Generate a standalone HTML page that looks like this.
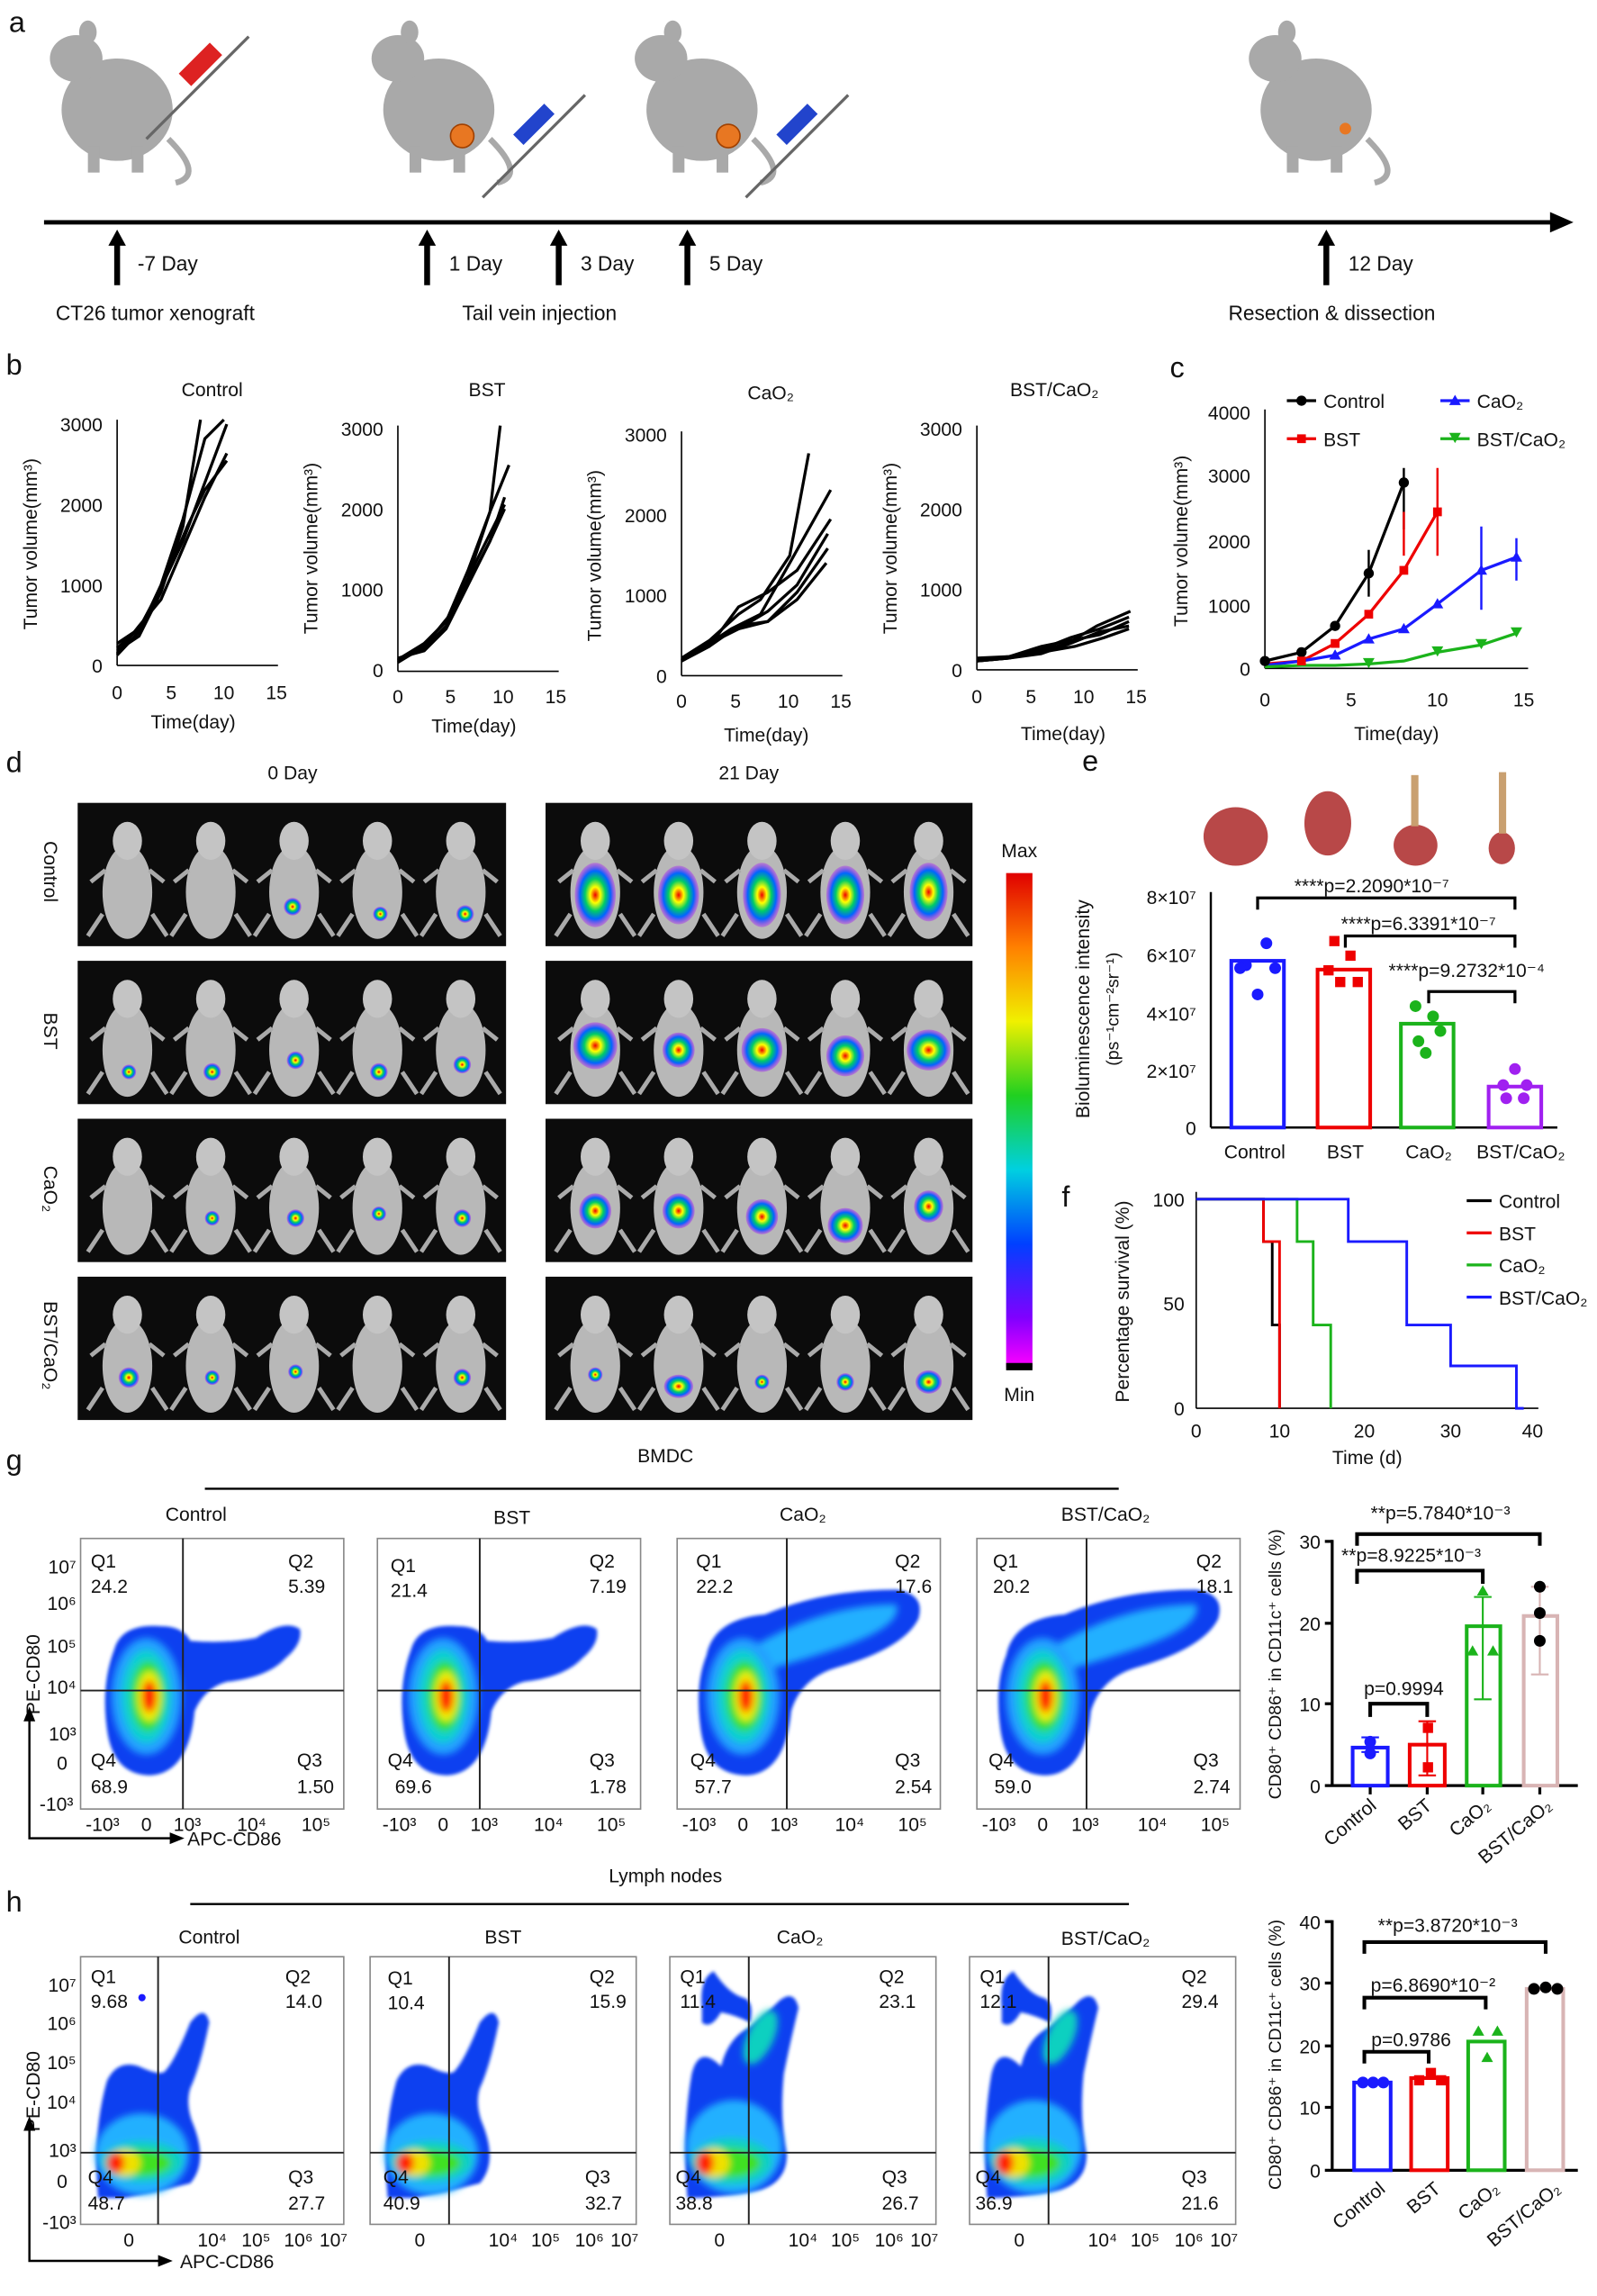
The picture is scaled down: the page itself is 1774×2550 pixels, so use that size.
<!DOCTYPE html>
<html><head><meta charset="utf-8"><style>
html,body{margin:0;padding:0;background:#fff}
svg{display:block}
text{font-family:"Liberation Sans",Arial,sans-serif;fill:#111}
</style></head><body>
<svg width="1774" height="2550" viewBox="0 0 1092 1570" xmlns="http://www.w3.org/2000/svg">
<defs>
<filter id="bl" x="-20%" y="-20%" width="140%" height="140%"><feGaussianBlur stdDeviation="2.5"/></filter>
<filter id="bl2" x="-20%" y="-20%" width="140%" height="140%"><feGaussianBlur stdDeviation="1.2"/></filter>
<radialGradient id="spot" cx="0.5" cy="0.5" r="0.5">
<stop offset="0" stop-color="#e00"/><stop offset="0.25" stop-color="#ff0"/><stop offset="0.5" stop-color="#0c6"/><stop offset="0.75" stop-color="#06f"/><stop offset="1" stop-color="#a0f" stop-opacity="0.3"/></radialGradient>
<linearGradient id="cbar" x1="0" y1="0" x2="0" y2="1">
<stop offset="0" stop-color="#e00000"/><stop offset="0.15" stop-color="#ff8000"/><stop offset="0.3" stop-color="#f0f000"/><stop offset="0.45" stop-color="#20d020"/><stop offset="0.6" stop-color="#00d0e0"/><stop offset="0.75" stop-color="#0040ff"/><stop offset="0.9" stop-color="#8000ff"/><stop offset="1" stop-color="#ff00ff"/></linearGradient>
<g id="mouse"><ellipse cx="50" cy="65" rx="38" ry="35" fill="#a9a9a9"/><ellipse cx="22" cy="30" rx="18" ry="16" fill="#a9a9a9"/><ellipse cx="30" cy="12" rx="6" ry="8" fill="#a9a9a9"/><path d="M85,85 Q110,110 90,115" stroke="#a9a9a9" stroke-width="4" fill="none"/><rect x="30" y="90" width="8" height="18" fill="#a9a9a9"/><rect x="60" y="90" width="8" height="18" fill="#a9a9a9"/></g>
<g id="wm"><ellipse cx="29" cy="55" rx="17" ry="32" fill="#b8b8b8"/><ellipse cx="29" cy="20" rx="10" ry="13" fill="#c4c4c4"/><path d="M12,70 L2,85 M46,70 L56,85 M14,40 L4,48 M44,40 L54,48" stroke="#aaa" stroke-width="3"/></g>
<!-- g flow blob, box-relative 180x185 -->
<g id="gblob">
<path filter="url(#bl2)" fill="#1040f0" d="M23,76 Q28,58 55,60 Q70,60 75,70 Q100,72 120,68 Q140,55 150,62 Q152,72 140,82 Q128,95 100,98 Q85,102 78,118 Q74,160 48,162 Q22,162 18,130 Q14,100 23,76Z"/>
<g filter="url(#bl)">
<ellipse cx="45" cy="108" rx="24" ry="40" fill="#20a0ff"/>
<ellipse cx="45" cy="108" rx="17" ry="32" fill="#10d0d0"/>
<ellipse cx="46" cy="108" rx="12" ry="24" fill="#30e030"/>
<ellipse cx="47" cy="108" rx="8" ry="17" fill="#f0f000"/>
<ellipse cx="47" cy="108" rx="5" ry="11" fill="#ff2000"/></g>
</g>
<g id="gblob2">
<path filter="url(#bl2)" fill="#1040f0" d="M20,80 Q25,55 60,52 Q100,35 150,35 Q170,38 165,55 Q155,75 110,88 Q85,95 78,118 Q74,160 48,162 Q20,162 16,130 Q12,100 20,80Z"/>
<g filter="url(#bl)">
<path d="M50,75 Q100,45 150,45 Q155,60 110,75 Q80,85 60,90Z" fill="#20b0ff"/>
<ellipse cx="45" cy="108" rx="25" ry="40" fill="#20a0ff"/>
<ellipse cx="45" cy="108" rx="18" ry="32" fill="#10d0d0"/>
<ellipse cx="46" cy="108" rx="13" ry="24" fill="#30e030"/>
<ellipse cx="47" cy="108" rx="8" ry="17" fill="#f0f000"/>
<ellipse cx="47" cy="108" rx="5" ry="11" fill="#ff2000"/></g>
</g>
<g id="hblob">
<path filter="url(#bl2)" fill="#1040f0" d="M12,165 Q8,120 18,85 Q25,70 40,75 Q55,82 58,78 Q65,70 75,45 Q85,32 88,45 Q82,75 75,90 Q72,100 76,112 Q88,140 75,155 Q55,160 30,165Z"/>
<g filter="url(#bl)">
<ellipse cx="42" cy="135" rx="32" ry="28" fill="#20b0ff"/>
<ellipse cx="42" cy="140" rx="28" ry="14" fill="#10d0c0"/>
<ellipse cx="40" cy="141" rx="22" ry="9" fill="#40e020"/>
<ellipse cx="30" cy="141" rx="11" ry="9" fill="#f0e000"/>
<ellipse cx="24" cy="141" rx="6" ry="7" fill="#ff2000"/></g>
</g>
<g id="hblob2">
<path filter="url(#bl2)" fill="#1040f0" d="M12,165 Q8,120 15,80 Q20,60 35,75 Q40,55 55,48 Q65,40 75,30 Q85,22 88,35 Q82,60 78,80 Q75,110 80,135 Q80,155 60,160 Q35,165 12,165Z"/>
<path filter="url(#bl2)" fill="#1040f0" d="M22,35 Q20,15 30,10 Q40,25 50,28 Q58,30 55,45 Q45,40 35,38 Q28,50 22,45Z"/>
<g filter="url(#bl)">
<ellipse cx="62" cy="55" rx="9" ry="20" fill="#10d0c0" transform="rotate(25 62 55)"/>
<ellipse cx="44" cy="130" rx="33" ry="32" fill="#20b0ff"/>
<ellipse cx="42" cy="140" rx="28" ry="16" fill="#10d0c0"/>
<ellipse cx="40" cy="141" rx="22" ry="10" fill="#40e020"/>
<ellipse cx="30" cy="141" rx="11" ry="10" fill="#f0e000"/>
<ellipse cx="24" cy="141" rx="6" ry="8" fill="#ff2000"/></g>
</g>
</defs>
<rect width="1092" height="1570" fill="#fff"/>

<!-- panel a -->
<text x="6" y="22" font-size="20">a</text>
<use href="#mouse" x="30" y="10"/><use href="#mouse" x="250" y="10"/><use href="#mouse" x="430" y="10"/><use href="#mouse" x="850" y="10"/>
<circle cx="316" cy="93" r="8" fill="#e87722" stroke="#a04000"/><circle cx="498" cy="93" r="8" fill="#e87722" stroke="#a04000"/><circle cx="920" cy="88" r="4" fill="#e87722"/>
<line x1="100" y1="95" x2="170" y2="25" stroke="#666" stroke-width="2"/><rect x="122" y="38" width="30" height="12" fill="#d22" transform="rotate(-45 137 44)"/>
<line x1="330" y1="135" x2="400" y2="65" stroke="#666" stroke-width="2"/><rect x="350" y="80" width="30" height="10" fill="#24c" transform="rotate(-45 365 85)"/>
<line x1="510" y1="135" x2="580" y2="65" stroke="#666" stroke-width="2"/><rect x="530" y="80" width="30" height="10" fill="#24c" transform="rotate(-45 545 85)"/>
<line x1="30" y1="152" x2="1065" y2="152" stroke="#000" stroke-width="3"/><polygon points="1076,152 1060,145 1060,159" fill="#000"/>
<g stroke="#000" stroke-width="4"><line x1="80" y1="195" x2="80" y2="165"/><line x1="292" y1="195" x2="292" y2="165"/><line x1="382" y1="195" x2="382" y2="165"/><line x1="470" y1="195" x2="470" y2="165"/><line x1="907" y1="195" x2="907" y2="165"/></g>
<g fill="#000"><polygon points="80,157 74,168 86,168"/><polygon points="292,157 286,168 298,168"/><polygon points="382,157 376,168 388,168"/><polygon points="470,157 464,168 476,168"/><polygon points="907,157 901,168 913,168"/></g>
<g font-size="14"><text x="94" y="185">-7 Day</text><text x="307" y="185">1 Day</text><text x="397" y="185">3 Day</text><text x="485" y="185">5 Day</text><text x="922" y="185">12 Day</text>
<text x="38" y="219">CT26 tumor xenograft</text><text x="316" y="219">Tail vein injection</text><text x="840" y="219">Resection &amp; dissection</text></g>

<!-- panel b -->
<text x="4" y="256" font-size="20">b</text>
<g font-size="13">
<g><text x="145" y="271" text-anchor="middle">Control</text>
<line x1="80" y1="287" x2="80" y2="455" stroke="#000"/><line x1="80" y1="455" x2="190" y2="455" stroke="#000"/>
<text x="70" y="295" text-anchor="end">3000</text><text x="70" y="350" text-anchor="end">2000</text><text x="70" y="405" text-anchor="end">1000</text><text x="70" y="460" text-anchor="end">0</text>
<text x="80" y="478" text-anchor="middle">0</text><text x="117" y="478" text-anchor="middle">5</text><text x="153" y="478" text-anchor="middle">10</text><text x="189" y="478" text-anchor="middle">15</text>
<text x="132" y="498" text-anchor="middle">Time(day)</text><text transform="translate(25 372) rotate(-90)" text-anchor="middle">Tumor volume(mm³)</text>
<g fill="none" stroke="#000" stroke-width="2"><polyline points="80,445 95,435 110,405 125,360 137,287"/><polyline points="80,448 95,432 110,400 125,355 140,300 153,287"/><polyline points="80,440 95,430 110,402 125,370 140,330 155,290"/><polyline points="80,447 95,428 110,410 125,375 140,340 155,310"/><polyline points="80,443 95,430 112,398 128,360 140,335 155,315"/></g></g>
<g><text x="333" y="271" text-anchor="middle">BST</text>
<line x1="272" y1="291" x2="272" y2="459" stroke="#000"/><line x1="272" y1="459" x2="382" y2="459" stroke="#000"/>
<text x="262" y="298" text-anchor="end">3000</text><text x="262" y="353" text-anchor="end">2000</text><text x="262" y="408" text-anchor="end">1000</text><text x="262" y="463" text-anchor="end">0</text>
<text x="272" y="481" text-anchor="middle">0</text><text x="308" y="481" text-anchor="middle">5</text><text x="344" y="481" text-anchor="middle">10</text><text x="380" y="481" text-anchor="middle">15</text>
<text x="324" y="501" text-anchor="middle">Time(day)</text><text transform="translate(217 375) rotate(-90)" text-anchor="middle">Tumor volume(mm³)</text>
<g fill="none" stroke="#000" stroke-width="2"><polyline points="272,452 290,443 305,428 320,395 335,350 342,291"/><polyline points="272,452 290,440 305,425 320,390 335,350 348,318"/><polyline points="272,450 290,445 305,430 320,400 335,370 345,340"/><polyline points="272,453 290,442 308,420 322,395 335,370 345,348"/><polyline points="272,451 290,440 308,422 325,385 345,345"/></g></g>
<g><text x="527" y="273" text-anchor="middle">CaO₂</text>
<line x1="466" y1="295" x2="466" y2="462" stroke="#000"/><line x1="466" y1="462" x2="576" y2="462" stroke="#000"/>
<text x="456" y="302" text-anchor="end">3000</text><text x="456" y="357" text-anchor="end">2000</text><text x="456" y="412" text-anchor="end">1000</text><text x="456" y="467" text-anchor="end">0</text>
<text x="466" y="484" text-anchor="middle">0</text><text x="503" y="484" text-anchor="middle">5</text><text x="539" y="484" text-anchor="middle">10</text><text x="575" y="484" text-anchor="middle">15</text>
<text x="524" y="507" text-anchor="middle">Time(day)</text><text transform="translate(411 380) rotate(-90)" text-anchor="middle">Tumor volume(mm³)</text>
<g fill="none" stroke="#000" stroke-width="2"><polyline points="466,450 485,438 505,420 520,410 540,380 553,310"/><polyline points="466,452 485,440 500,430 520,420 540,385 568,335"/><polyline points="466,452 485,442 505,415 525,405 545,390 568,355"/><polyline points="466,451 485,440 505,430 525,418 545,400 566,365"/><polyline points="466,452 485,442 505,428 525,425 545,405 566,375"/><polyline points="466,452 485,440 505,430 525,425 545,410 565,385"/></g></g>
<g><text x="721" y="271" text-anchor="middle">BST/CaO₂</text>
<line x1="668" y1="291" x2="668" y2="458" stroke="#000"/><line x1="668" y1="458" x2="778" y2="458" stroke="#000"/>
<text x="658" y="298" text-anchor="end">3000</text><text x="658" y="353" text-anchor="end">2000</text><text x="658" y="408" text-anchor="end">1000</text><text x="658" y="463" text-anchor="end">0</text>
<text x="668" y="481" text-anchor="middle">0</text><text x="705" y="481" text-anchor="middle">5</text><text x="741" y="481" text-anchor="middle">10</text><text x="777" y="481" text-anchor="middle">15</text>
<text x="727" y="506" text-anchor="middle">Time(day)</text><text transform="translate(613 375) rotate(-90)" text-anchor="middle">Tumor volume(mm³)</text>
<g fill="none" stroke="#000" stroke-width="2"><polyline points="668,452 690,450 710,445 730,440 750,428 773,418"/><polyline points="668,451 690,449 712,444 732,436 752,430 772,422"/><polyline points="668,452 690,450 712,447 732,440 752,432 772,428"/><polyline points="668,450 690,449 712,442 732,438 752,434 772,425"/><polyline points="668,452 690,450 712,446 735,442 755,436 772,430"/></g></g>
</g>

<!-- panel c -->
<text x="800" y="258" font-size="20">c</text>
<g font-size="13">
<line x1="865" y1="280" x2="865" y2="457" stroke="#000"/><line x1="865" y1="457" x2="1045" y2="457" stroke="#000"/>
<text x="855" y="287" text-anchor="end">4000</text><text x="855" y="330" text-anchor="end">3000</text><text x="855" y="375" text-anchor="end">2000</text><text x="855" y="419" text-anchor="end">1000</text><text x="855" y="462" text-anchor="end">0</text>
<text x="865" y="483" text-anchor="middle">0</text><text x="924" y="483" text-anchor="middle">5</text><text x="983" y="483" text-anchor="middle">10</text><text x="1042" y="483" text-anchor="middle">15</text>
<text x="955" y="506" text-anchor="middle">Time(day)</text><text transform="translate(812 370) rotate(-90)" text-anchor="middle">Tumor volume(mm³)</text>
<g stroke-width="1.5" fill="none"><line x1="936" y1="408" x2="936" y2="376" stroke="#000"/><line x1="960" y1="362" x2="960" y2="320" stroke="#000"/><line x1="960" y1="380" x2="960" y2="350" stroke="#e00"/><line x1="983" y1="380" x2="983" y2="320" stroke="#e00"/><line x1="1013" y1="360" x2="1013" y2="417" stroke="#1a1aff"/><line x1="1037" y1="368" x2="1037" y2="397" stroke="#1a1aff"/></g>
<polyline points="865,452 890,446 913,428 936,392 960,330" fill="none" stroke="#000" stroke-width="2"/>
<polyline points="865,454 890,452 913,440 936,420 960,390 983,350" fill="none" stroke="#e00" stroke-width="2"/>
<polyline points="865,455 890,452 913,448 936,437 960,430 983,413 1013,390 1037,381" fill="none" stroke="#1a1aff" stroke-width="2"/>
<polyline points="865,456 890,455 913,455 936,454 960,452 983,446 1013,441 1037,433" fill="none" stroke="#1bb31b" stroke-width="2"/>
<g fill="#000"><circle cx="865" cy="452" r="3.5"/><circle cx="890" cy="446" r="3.5"/><circle cx="913" cy="428" r="3.5"/><circle cx="936" cy="392" r="3.5"/><circle cx="960" cy="330" r="3.5"/></g>
<g fill="#e00"><rect x="887" y="449" width="6" height="6"/><rect x="910" y="437" width="6" height="6"/><rect x="933" y="417" width="6" height="6"/><rect x="957" y="387" width="6" height="6"/><rect x="980" y="347" width="6" height="6"/></g>
<g fill="#1a1aff"><polygon points="913,444 909,451 917,451"/><polygon points="936,433 932,440 940,440"/><polygon points="960,426 956,433 964,433"/><polygon points="983,409 979,416 987,416"/><polygon points="1013,386 1009,393 1017,393"/><polygon points="1037,377 1033,384 1041,384"/></g>
<g fill="#1bb31b"><polygon points="936,457 932,450 940,450"/><polygon points="983,449 979,442 987,442"/><polygon points="1013,444 1009,437 1017,437"/><polygon points="1037,436 1033,429 1041,429"/></g>
<line x1="880" y1="274" x2="900" y2="274" stroke="#000" stroke-width="2"/><circle cx="890" cy="274" r="3.5"/><text x="905" y="279">Control</text>
<line x1="880" y1="300" x2="900" y2="300" stroke="#e00" stroke-width="2"/><rect x="887" y="297" width="6" height="6" fill="#e00"/><text x="905" y="305">BST</text>
<line x1="985" y1="274" x2="1005" y2="274" stroke="#1a1aff" stroke-width="2"/><polygon points="995,270 991,277 999,277" fill="#1a1aff"/><text x="1010" y="279">CaO₂</text>
<line x1="985" y1="300" x2="1005" y2="300" stroke="#1bb31b" stroke-width="2"/><polygon points="995,303 991,296 999,296" fill="#1bb31b"/><text x="1010" y="305">BST/CaO₂</text>
</g>

<!-- panel d -->
<text x="4" y="528" font-size="20">d</text>
<g font-size="13"><text x="200" y="533" text-anchor="middle">0 Day</text><text x="512" y="533" text-anchor="middle">21 Day</text>
<text transform="translate(30 596) rotate(90)" text-anchor="middle">Control</text><text transform="translate(30 705) rotate(90)" text-anchor="middle">BST</text><text transform="translate(30 813) rotate(90)" text-anchor="middle">CaO₂</text><text transform="translate(30 920) rotate(90)" text-anchor="middle">BST/CaO₂</text></g>
<g fill="#0c0c0c"><rect x="53" y="549" width="293" height="98"/><rect x="373" y="549" width="292" height="98"/><rect x="53" y="657" width="293" height="98"/><rect x="373" y="657" width="292" height="98"/><rect x="53" y="765" width="293" height="98"/><rect x="373" y="765" width="292" height="98"/><rect x="53" y="873" width="293" height="98"/><rect x="373" y="873" width="292" height="98"/></g>
<g>
<use href="#wm" x="58" y="555"/><use href="#wm" x="115" y="555"/><use href="#wm" x="172" y="555"/><use href="#wm" x="229" y="555"/><use href="#wm" x="286" y="555"/>
<use href="#wm" x="378" y="555"/><use href="#wm" x="435" y="555"/><use href="#wm" x="492" y="555"/><use href="#wm" x="549" y="555"/><use href="#wm" x="606" y="555"/>
<use href="#wm" x="58" y="663"/><use href="#wm" x="115" y="663"/><use href="#wm" x="172" y="663"/><use href="#wm" x="229" y="663"/><use href="#wm" x="286" y="663"/>
<use href="#wm" x="378" y="663"/><use href="#wm" x="435" y="663"/><use href="#wm" x="492" y="663"/><use href="#wm" x="549" y="663"/><use href="#wm" x="606" y="663"/>
<use href="#wm" x="58" y="771"/><use href="#wm" x="115" y="771"/><use href="#wm" x="172" y="771"/><use href="#wm" x="229" y="771"/><use href="#wm" x="286" y="771"/>
<use href="#wm" x="378" y="771"/><use href="#wm" x="435" y="771"/><use href="#wm" x="492" y="771"/><use href="#wm" x="549" y="771"/><use href="#wm" x="606" y="771"/>
<use href="#wm" x="58" y="879"/><use href="#wm" x="115" y="879"/><use href="#wm" x="172" y="879"/><use href="#wm" x="229" y="879"/><use href="#wm" x="286" y="879"/>
<use href="#wm" x="378" y="879"/><use href="#wm" x="435" y="879"/><use href="#wm" x="492" y="879"/><use href="#wm" x="549" y="879"/><use href="#wm" x="606" y="879"/>
</g>
<g fill="url(#spot)">
<circle cx="200" cy="620" r="6"/><circle cx="260" cy="625" r="5"/><circle cx="318" cy="625" r="6"/>
<ellipse cx="407" cy="612" rx="14" ry="22"/><ellipse cx="464" cy="612" rx="14" ry="20"/><ellipse cx="521" cy="612" rx="13" ry="22"/><ellipse cx="578" cy="612" rx="13" ry="20"/><ellipse cx="635" cy="610" rx="13" ry="20"/>
<circle cx="88" cy="733" r="5"/><circle cx="145" cy="733" r="6"/><circle cx="202" cy="725" r="6"/><circle cx="259" cy="733" r="6"/><circle cx="316" cy="728" r="6"/>
<ellipse cx="407" cy="715" rx="15" ry="16"/><ellipse cx="464" cy="718" rx="11" ry="12"/><ellipse cx="521" cy="718" rx="14" ry="15"/><ellipse cx="578" cy="722" rx="13" ry="14"/><ellipse cx="635" cy="718" rx="15" ry="14"/>
<circle cx="145" cy="833" r="5"/><circle cx="202" cy="833" r="6"/><circle cx="259" cy="830" r="5"/><circle cx="316" cy="833" r="6"/>
<ellipse cx="407" cy="828" rx="11" ry="12"/><ellipse cx="464" cy="828" rx="11" ry="12"/><ellipse cx="521" cy="832" rx="11" ry="12"/><ellipse cx="578" cy="838" rx="12" ry="12"/><ellipse cx="635" cy="825" rx="10" ry="11"/>
<circle cx="88" cy="942" r="7"/><circle cx="145" cy="942" r="5"/><circle cx="202" cy="938" r="5"/><circle cx="316" cy="942" r="6"/>
<circle cx="407" cy="940" r="5"/><ellipse cx="464" cy="948" rx="10" ry="8"/><circle cx="521" cy="945" r="5"/><circle cx="578" cy="945" r="6"/><ellipse cx="635" cy="945" rx="9" ry="8"/>
</g>
<rect x="688" y="597" width="18" height="338" fill="url(#cbar)"/><rect x="688" y="932" width="18" height="5" fill="#000"/>
<text x="697" y="586" font-size="13" text-anchor="middle">Max</text><text x="697" y="958" font-size="13" text-anchor="middle">Min</text>

<!-- panel e -->
<text x="740" y="527" font-size="20">e</text>
<g fill="#b84848"><ellipse cx="845" cy="572" rx="22" ry="20"/><ellipse cx="908" cy="563" rx="16" ry="22"/><ellipse cx="968" cy="578" rx="15" ry="14"/><ellipse cx="1027" cy="580" rx="9" ry="11"/></g>
<g fill="#c9a070"><rect x="965" y="530" width="5" height="35"/><rect x="1025" y="528" width="5" height="42"/></g>
<g font-size="13">
<line x1="828" y1="610" x2="828" y2="771" stroke="#000" stroke-width="1.5"/><line x1="828" y1="771" x2="1065" y2="771" stroke="#000" stroke-width="1.5"/>
<text x="818" y="618" text-anchor="end">8×10⁷</text><text x="818" y="658" text-anchor="end">6×10⁷</text><text x="818" y="698" text-anchor="end">4×10⁷</text><text x="818" y="737" text-anchor="end">2×10⁷</text><text x="818" y="776" text-anchor="end">0</text>
<text transform="translate(745 690) rotate(-90)" text-anchor="middle">Bioluminescence intensity</text><text transform="translate(765 690) rotate(-90)" text-anchor="middle" font-size="12">(ps⁻¹cm⁻²sr⁻¹)</text>
<rect x="842" y="657" width="36" height="114" fill="none" stroke="#1a1aff" stroke-width="2.5"/>
<rect x="901" y="663" width="36" height="108" fill="none" stroke="#e00" stroke-width="2.5"/>
<rect x="958" y="700" width="36" height="71" fill="none" stroke="#1bb31b" stroke-width="2.5"/>
<rect x="1018" y="743" width="36" height="28" fill="none" stroke="#a020f0" stroke-width="2.5"/>
<g fill="#1a1aff"><circle cx="852" cy="660" r="4"/><circle cx="866" cy="645" r="4"/><circle cx="860" cy="680" r="4"/><circle cx="872" cy="662" r="4"/><circle cx="848" cy="662" r="4"/></g>
<g fill="#e00"><rect x="909" y="640" width="7" height="7"/><rect x="920" y="650" width="7" height="7"/><rect x="913" y="668" width="7" height="7"/><rect x="925" y="668" width="7" height="7"/><rect x="905" y="660" width="7" height="7"/></g>
<g fill="#1bb31b"><circle cx="968" cy="688" r="4"/><circle cx="980" cy="695" r="4"/><circle cx="970" cy="712" r="4"/><circle cx="985" cy="705" r="4"/><circle cx="975" cy="720" r="4"/></g>
<g fill="#a020f0"><circle cx="1036" cy="731" r="4"/><circle cx="1028" cy="742" r="4"/><circle cx="1044" cy="742" r="4"/><circle cx="1030" cy="751" r="4"/><circle cx="1042" cy="751" r="4"/></g>
<text x="858" y="792" text-anchor="middle">Control</text><text x="920" y="792" text-anchor="middle">BST</text><text x="977" y="792" text-anchor="middle">CaO₂</text><text x="1040" y="792" text-anchor="middle">BST/CaO₂</text>
<path d="M860,622 V614 H1036 V622" fill="none" stroke="#000" stroke-width="2"/><text x="938" y="610" text-anchor="middle">****p=2.2090*10⁻⁷</text>
<path d="M920,648 V640 H1036 V648" fill="none" stroke="#000" stroke-width="2"/><text x="970" y="636" text-anchor="middle">****p=6.3391*10⁻⁷</text>
<path d="M977,686 V678 H1036 V686" fill="none" stroke="#000" stroke-width="2"/><text x="1003" y="668" text-anchor="middle">****p=9.2732*10⁻⁴</text>
</g>

<!-- panel f -->
<text x="726" y="825" font-size="20">f</text>
<g font-size="13">
<line x1="818" y1="815" x2="818" y2="963" stroke="#000"/><line x1="818" y1="963" x2="1052" y2="963" stroke="#000"/>
<text x="810" y="825" text-anchor="end">100</text><text x="810" y="896" text-anchor="end">50</text><text x="810" y="968" text-anchor="end">0</text>
<text x="818" y="983" text-anchor="middle">0</text><text x="875" y="983" text-anchor="middle">10</text><text x="933" y="983" text-anchor="middle">20</text><text x="992" y="983" text-anchor="middle">30</text><text x="1048" y="983" text-anchor="middle">40</text>
<text x="935" y="1001" text-anchor="middle">Time (d)</text><text transform="translate(772 890) rotate(-90)" text-anchor="middle">Percentage survival (%)</text>
<polyline points="818,820 864,820 864,849 870,849 870,906 875,906 875,963" fill="none" stroke="#000" stroke-width="1.8"/>
<polyline points="818,820 864,820 864,849 875,849 875,963" fill="none" stroke="#e00" stroke-width="1.8"/>
<polyline points="818,820 887,820 887,849 898,849 898,906 910,906 910,963" fill="none" stroke="#1bb31b" stroke-width="1.8"/>
<polyline points="818,820 922,820 922,849 962,849 962,906 992,906 992,934 1037,934 1037,963 1042,963" fill="none" stroke="#1a1aff" stroke-width="1.8"/>
<line x1="1003" y1="821" x2="1020" y2="821" stroke="#000" stroke-width="2"/><text x="1025" y="826">Control</text>
<line x1="1003" y1="843" x2="1020" y2="843" stroke="#e00" stroke-width="2"/><text x="1025" y="848">BST</text>
<line x1="1003" y1="865" x2="1020" y2="865" stroke="#1bb31b" stroke-width="2"/><text x="1025" y="870">CaO₂</text>
<line x1="1003" y1="887" x2="1020" y2="887" stroke="#1a1aff" stroke-width="2"/><text x="1025" y="892">BST/CaO₂</text>
</g>

<!-- panel g -->
<text x="4" y="1005" font-size="20">g</text>
<g font-size="13">
<text x="455" y="1000" text-anchor="middle">BMDC</text><line x1="140" y1="1018" x2="765" y2="1018" stroke="#000" stroke-width="1.5"/>
<text x="134" y="1040" text-anchor="middle">Control</text><text x="350" y="1042" text-anchor="middle">BST</text><text x="549" y="1040" text-anchor="middle">CaO₂</text><text x="756" y="1040" text-anchor="middle">BST/CaO₂</text>
</g>
<rect x="55" y="1052" width="180" height="185" fill="#fff" stroke="#888"/>
<rect x="258" y="1052" width="180" height="185" fill="#fff" stroke="#888"/>
<rect x="463" y="1052" width="180" height="185" fill="#fff" stroke="#888"/>
<rect x="668" y="1052" width="180" height="185" fill="#fff" stroke="#888"/>
<use href="#gblob" x="55" y="1052"/><use href="#gblob" x="258" y="1052"/><use href="#gblob2" x="463" y="1052"/><use href="#gblob2" x="668" y="1052"/>
<g stroke="#222" stroke-width="1.2"><line x1="125" y1="1052" x2="125" y2="1237"/><line x1="55" y1="1156" x2="235" y2="1156"/>
<line x1="328" y1="1052" x2="328" y2="1237"/><line x1="258" y1="1156" x2="438" y2="1156"/>
<line x1="538" y1="1052" x2="538" y2="1237"/><line x1="463" y1="1156" x2="643" y2="1156"/>
<line x1="743" y1="1052" x2="743" y2="1237"/><line x1="668" y1="1156" x2="848" y2="1156"/></g>
<g font-size="13">
<text x="62" y="1072">Q1</text><text x="62" y="1089">24.2</text><text x="197" y="1072">Q2</text><text x="197" y="1089">5.39</text><text x="62" y="1208">Q4</text><text x="62" y="1226">68.9</text><text x="203" y="1208">Q3</text><text x="203" y="1226">1.50</text>
<text x="267" y="1075">Q1</text><text x="267" y="1092">21.4</text><text x="403" y="1072">Q2</text><text x="403" y="1089">7.19</text><text x="265" y="1208">Q4</text><text x="270" y="1226">69.6</text><text x="403" y="1208">Q3</text><text x="403" y="1226">1.78</text>
<text x="476" y="1072">Q1</text><text x="476" y="1089">22.2</text><text x="612" y="1072">Q2</text><text x="612" y="1089">17.6</text><text x="472" y="1208">Q4</text><text x="475" y="1226">57.7</text><text x="612" y="1208">Q3</text><text x="612" y="1226">2.54</text>
<text x="679" y="1072">Q1</text><text x="679" y="1089">20.2</text><text x="818" y="1072">Q2</text><text x="818" y="1089">18.1</text><text x="676" y="1208">Q4</text><text x="680" y="1226">59.0</text><text x="816" y="1208">Q3</text><text x="816" y="1226">2.74</text>
<text x="52" y="1076" text-anchor="end">10⁷</text><text x="52" y="1101" text-anchor="end">10⁶</text><text x="52" y="1130" text-anchor="end">10⁵</text><text x="52" y="1158" text-anchor="end">10⁴</text><text x="52" y="1190" text-anchor="end">10³</text><text x="46" y="1210" text-anchor="end">0</text><text x="50" y="1238" text-anchor="end">-10³</text>
<g text-anchor="middle"><text x="70" y="1252">-10³</text><text x="100" y="1252">0</text><text x="128" y="1252">10³</text><text x="172" y="1252">10⁴</text><text x="216" y="1252">10⁵</text>
<text x="273" y="1252">-10³</text><text x="303" y="1252">0</text><text x="331" y="1252">10³</text><text x="375" y="1252">10⁴</text><text x="418" y="1252">10⁵</text>
<text x="478" y="1252">-10³</text><text x="508" y="1252">0</text><text x="536" y="1252">10³</text><text x="581" y="1252">10⁴</text><text x="624" y="1252">10⁵</text>
<text x="683" y="1252">-10³</text><text x="713" y="1252">0</text><text x="742" y="1252">10³</text><text x="788" y="1252">10⁴</text><text x="831" y="1252">10⁵</text></g>
<text x="128" y="1262">APC-CD86</text><text transform="translate(27 1145) rotate(-90)" text-anchor="middle">PE-CD80</text>
</g>
<path d="M20,1175 V1257 H120" fill="none" stroke="#000" stroke-width="1.5"/><polygon points="20,1167 16,1177 24,1177"/><polygon points="126,1257 116,1253 116,1261"/>
<!-- g bars -->
<g font-size="13">
<line x1="911" y1="1053" x2="911" y2="1221" stroke="#000" stroke-width="2"/><line x1="906" y1="1221" x2="1079" y2="1221" stroke="#000" stroke-width="2"/>
<g stroke="#000" stroke-width="2"><line x1="906" y1="1054" x2="911" y2="1054"/><line x1="906" y1="1110" x2="911" y2="1110"/><line x1="906" y1="1165" x2="911" y2="1165"/><line x1="937" y1="1221" x2="937" y2="1227"/><line x1="976" y1="1221" x2="976" y2="1227"/><line x1="1014" y1="1221" x2="1014" y2="1227"/><line x1="1053" y1="1221" x2="1053" y2="1227"/></g>
<text x="903" y="1059" text-anchor="end">30</text><text x="903" y="1115" text-anchor="end">20</text><text x="903" y="1170" text-anchor="end">10</text><text x="903" y="1226" text-anchor="end">0</text>
<text transform="translate(876 1138) rotate(-90)" text-anchor="middle" font-size="12">CD80⁺ CD86⁺ in CD11c⁺ cells (%)</text>
<rect x="925" y="1195" width="24" height="26" fill="none" stroke="#1a1aff" stroke-width="2.5"/><rect x="964" y="1193" width="24" height="28" fill="none" stroke="#e00" stroke-width="2.5"/>
<rect x="1003" y="1112" width="23" height="109" fill="none" stroke="#1bb31b" stroke-width="2.5"/><rect x="1042" y="1105" width="23" height="116" fill="none" stroke="#d8b4b4" stroke-width="2.5"/>
<g stroke-width="1.3"><path d="M931,1188 H943 M937,1188 V1198 M931,1198 H943" stroke="#1a1aff" fill="none"/><path d="M970,1177 H982 M976,1177 V1214 M970,1214 H982" stroke="#e00" fill="none"/><path d="M1008,1092 H1020 M1014,1092 V1162 M1008,1162 H1020" stroke="#1bb31b" fill="none"/><path d="M1047,1085 H1059 M1053,1085 V1145 M1047,1145 H1059" stroke="#d8b4b4" fill="none"/></g>
<circle cx="937" cy="1191" r="4" fill="#1a1aff"/><circle cx="937" cy="1199" r="4" fill="#1a1aff"/><rect x="973" y="1178" width="7" height="7" fill="#e00"/><rect x="973" y="1205" width="7" height="7" fill="#e00"/>
<polygon points="1014,1084 1010,1091 1018,1091" fill="#1bb31b"/><polygon points="1007,1125 1003,1132 1011,1132" fill="#1bb31b"/><polygon points="1021,1125 1017,1132 1025,1132" fill="#1bb31b"/>
<circle cx="1053" cy="1085" r="4" fill="#000"/><circle cx="1053" cy="1103" r="4" fill="#000"/><circle cx="1053" cy="1122" r="4" fill="#000"/>
<path d="M937,1174 V1165 H976 V1174" fill="none" stroke="#000" stroke-width="2.5"/><text x="960" y="1159" text-anchor="middle">p=0.9994</text>
<path d="M928,1083 V1074 H1014 V1083" fill="none" stroke="#000" stroke-width="2.5"/><text x="965" y="1068" text-anchor="middle">**p=8.9225*10⁻³</text>
<path d="M928,1057 V1049 H1053 V1057" fill="none" stroke="#000" stroke-width="2.5"/><text x="985" y="1039" text-anchor="middle">**p=5.7840*10⁻³</text>
<g text-anchor="end"><text transform="translate(942 1236) rotate(-40)">Control</text><text transform="translate(980 1236) rotate(-40)">BST</text><text transform="translate(1020 1236) rotate(-40)">CaO₂</text><text transform="translate(1062 1236) rotate(-40)">BST/CaO₂</text></g>
</g>

<!-- panel h -->
<text x="4" y="1307" font-size="20">h</text>
<g font-size="13">
<text x="455" y="1287" text-anchor="middle">Lymph nodes</text><line x1="130" y1="1302" x2="772" y2="1302" stroke="#000" stroke-width="1.5"/>
<text x="143" y="1329" text-anchor="middle">Control</text><text x="344" y="1329" text-anchor="middle">BST</text><text x="547" y="1329" text-anchor="middle">CaO₂</text><text x="756" y="1330" text-anchor="middle">BST/CaO₂</text>
</g>
<rect x="55" y="1338" width="180" height="183" fill="#fff" stroke="#888"/>
<rect x="253" y="1338" width="182" height="183" fill="#fff" stroke="#888"/>
<rect x="458" y="1338" width="182" height="183" fill="#fff" stroke="#888"/>
<rect x="663" y="1338" width="182" height="183" fill="#fff" stroke="#888"/>
<use href="#hblob" x="55" y="1338"/><use href="#hblob" x="253" y="1338"/><use href="#hblob2" x="458" y="1338"/><use href="#hblob2" x="663" y="1338"/>
<circle cx="97" cy="1366" r="2.5" fill="#1a1aff"/>
<g stroke="#222" stroke-width="1.2"><line x1="108" y1="1338" x2="108" y2="1521"/><line x1="55" y1="1472" x2="235" y2="1472"/>
<line x1="307" y1="1338" x2="307" y2="1521"/><line x1="253" y1="1472" x2="435" y2="1472"/>
<line x1="512" y1="1338" x2="512" y2="1521"/><line x1="458" y1="1472" x2="640" y2="1472"/>
<line x1="717" y1="1338" x2="717" y2="1521"/><line x1="663" y1="1472" x2="845" y2="1472"/></g>
<g font-size="13">
<text x="62" y="1356">Q1</text><text x="62" y="1373">9.68</text><text x="195" y="1356">Q2</text><text x="195" y="1373">14.0</text><text x="60" y="1493">Q4</text><text x="60" y="1511">48.7</text><text x="197" y="1493">Q3</text><text x="197" y="1511">27.7</text>
<text x="265" y="1357">Q1</text><text x="265" y="1374">10.4</text><text x="403" y="1356">Q2</text><text x="403" y="1373">15.9</text><text x="262" y="1493">Q4</text><text x="262" y="1511">40.9</text><text x="400" y="1493">Q3</text><text x="400" y="1511">32.7</text>
<text x="465" y="1356">Q1</text><text x="465" y="1373">11.4</text><text x="601" y="1356">Q2</text><text x="601" y="1373">23.1</text><text x="462" y="1493">Q4</text><text x="462" y="1511">38.8</text><text x="603" y="1493">Q3</text><text x="603" y="1511">26.7</text>
<text x="670" y="1356">Q1</text><text x="670" y="1373">12.1</text><text x="808" y="1356">Q2</text><text x="808" y="1373">29.4</text><text x="667" y="1493">Q4</text><text x="667" y="1511">36.9</text><text x="808" y="1493">Q3</text><text x="808" y="1511">21.6</text>
<text x="52" y="1362" text-anchor="end">10⁷</text><text x="52" y="1388" text-anchor="end">10⁶</text><text x="52" y="1415" text-anchor="end">10⁵</text><text x="52" y="1442" text-anchor="end">10⁴</text><text x="52" y="1475" text-anchor="end">10³</text><text x="46" y="1496" text-anchor="end">0</text><text x="52" y="1524" text-anchor="end">-10³</text>
<g text-anchor="middle"><text x="88" y="1536">0</text><text x="145" y="1536">10⁴</text><text x="175" y="1536">10⁵</text><text x="204" y="1536">10⁶</text><text x="228" y="1536">10⁷</text>
<text x="287" y="1536">0</text><text x="344" y="1536">10⁴</text><text x="373" y="1536">10⁵</text><text x="403" y="1536">10⁶</text><text x="427" y="1536">10⁷</text>
<text x="492" y="1536">0</text><text x="549" y="1536">10⁴</text><text x="578" y="1536">10⁵</text><text x="608" y="1536">10⁶</text><text x="632" y="1536">10⁷</text>
<text x="697" y="1536">0</text><text x="754" y="1536">10⁴</text><text x="783" y="1536">10⁵</text><text x="813" y="1536">10⁶</text><text x="837" y="1536">10⁷</text></g>
<text x="123" y="1551">APC-CD86</text><text transform="translate(27 1430) rotate(-90)" text-anchor="middle">PE-CD80</text>
</g>
<path d="M20,1455 V1546 H112" fill="none" stroke="#000" stroke-width="1.5"/><polygon points="20,1447 16,1457 24,1457"/><polygon points="118,1546 108,1542 108,1550"/>
<g font-size="13">
<line x1="911" y1="1313" x2="911" y2="1484" stroke="#000" stroke-width="2"/><line x1="906" y1="1484" x2="1079" y2="1484" stroke="#000" stroke-width="2"/>
<g stroke="#000" stroke-width="2"><line x1="906" y1="1314" x2="911" y2="1314"/><line x1="906" y1="1356" x2="911" y2="1356"/><line x1="906" y1="1399" x2="911" y2="1399"/><line x1="906" y1="1441" x2="911" y2="1441"/></g>
<text x="903" y="1319" text-anchor="end">40</text><text x="903" y="1361" text-anchor="end">30</text><text x="903" y="1404" text-anchor="end">20</text><text x="903" y="1446" text-anchor="end">10</text><text x="903" y="1489" text-anchor="end">0</text>
<text transform="translate(876 1405) rotate(-90)" text-anchor="middle" font-size="12">CD80⁺ CD86⁺ in CD11c⁺ cells (%)</text>
<rect x="926" y="1424" width="25" height="60" fill="none" stroke="#1a1aff" stroke-width="2.5"/><rect x="965" y="1421" width="25" height="63" fill="none" stroke="#e00" stroke-width="2.5"/>
<rect x="1004" y="1396" width="25" height="88" fill="none" stroke="#1bb31b" stroke-width="2.5"/><rect x="1044" y="1360" width="25" height="124" fill="none" stroke="#d8b4b4" stroke-width="2.5"/>
<circle cx="932" cy="1424" r="4" fill="#1a1aff"/><circle cx="939" cy="1424" r="4" fill="#1a1aff"/><circle cx="946" cy="1424" r="4" fill="#1a1aff"/>
<rect x="967" y="1419" width="7" height="7" fill="#e00"/><rect x="975" y="1414" width="7" height="7" fill="#e00"/><rect x="982" y="1419" width="7" height="7" fill="#e00"/>
<polygon points="1011,1385 1007,1392 1015,1392" fill="#1bb31b"/><polygon points="1024,1385 1020,1392 1028,1392" fill="#1bb31b"/><polygon points="1017,1403 1013,1410 1021,1410" fill="#1bb31b"/>
<circle cx="1049" cy="1360" r="4" fill="#000"/><circle cx="1057" cy="1359" r="4" fill="#000"/><circle cx="1065" cy="1360" r="4" fill="#000"/>
<path d="M933,1411 V1403 H977 V1411" fill="none" stroke="#000" stroke-width="2.5"/><text x="965" y="1399" text-anchor="middle">p=0.9786</text>
<path d="M933,1374 V1366 H1016 V1374" fill="none" stroke="#000" stroke-width="2.5"/><text x="980" y="1362" text-anchor="middle">p=6.8690*10⁻²</text>
<path d="M933,1336 V1328 H1057 V1336" fill="none" stroke="#000" stroke-width="2.5"/><text x="990" y="1321" text-anchor="middle">**p=3.8720*10⁻³</text>
<g text-anchor="end"><text transform="translate(948 1498) rotate(-40)">Control</text><text transform="translate(986 1498) rotate(-40)">BST</text><text transform="translate(1026 1498) rotate(-40)">CaO₂</text><text transform="translate(1068 1498) rotate(-40)">BST/CaO₂</text></g>
</g>
</svg>
</body></html>
